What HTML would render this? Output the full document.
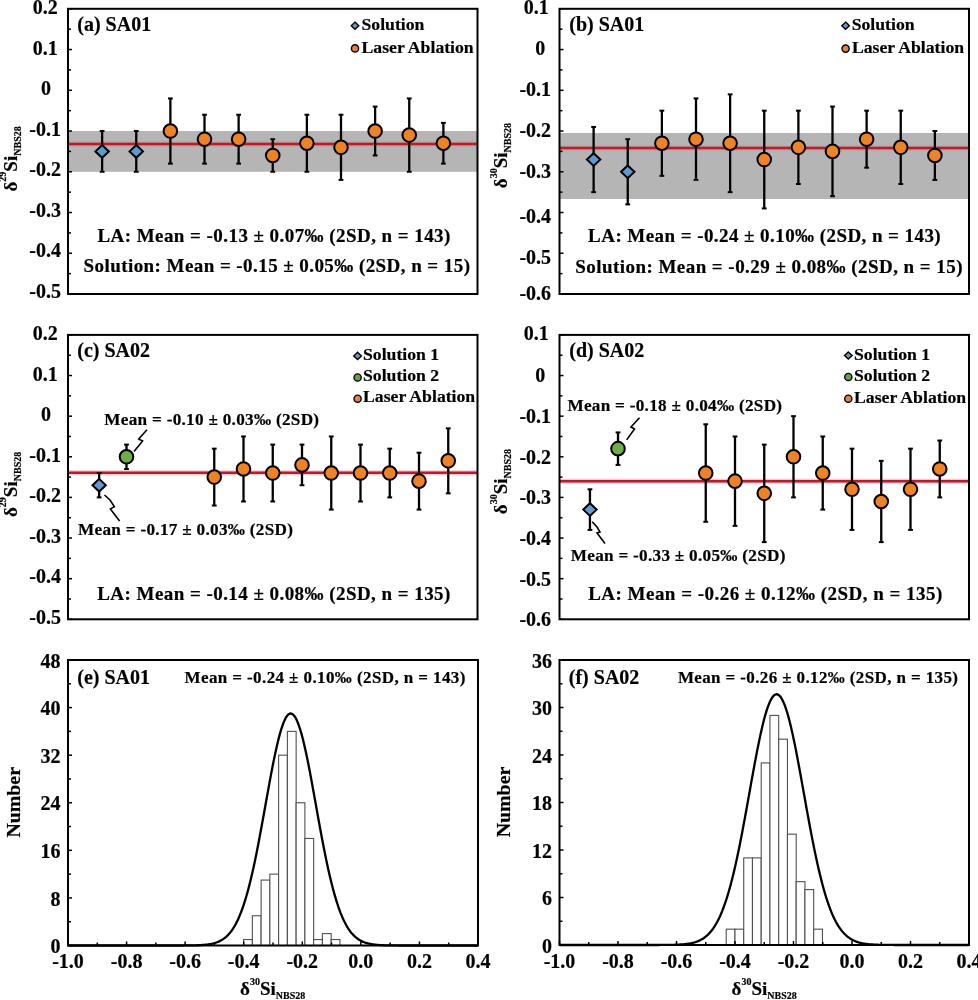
<!DOCTYPE html>
<html><head><meta charset="utf-8"><style>
html,body{margin:0;padding:0;background:#fff;}
svg{display:block;will-change:transform;}
text{font-family:'Liberation Serif',serif;font-weight:bold;fill:#000;stroke:#000;stroke-width:0.2px;}
</style></head><body>
<svg width="978" height="1000" viewBox="0 0 978 1000">
<rect x="68" y="131.03" width="409.5" height="40.74" fill="#B5B5B5"/>
<line x1="68" y1="143.9" x2="477.5" y2="143.9" stroke="#E06070" stroke-opacity="0.35" stroke-width="5"/>
<line x1="68" y1="143.9" x2="477.5" y2="143.9" stroke="#B0202F" stroke-width="2.5"/>
<line x1="102.12" y1="131.03" x2="102.12" y2="171.77" stroke="#000" stroke-width="2.3"/>
<line x1="99.72" y1="131.03" x2="104.53" y2="131.03" stroke="#000" stroke-width="2"/>
<line x1="99.72" y1="171.77" x2="104.53" y2="171.77" stroke="#000" stroke-width="2"/>
<line x1="136.25" y1="131.03" x2="136.25" y2="171.77" stroke="#000" stroke-width="2.3"/>
<line x1="133.85" y1="131.03" x2="138.65" y2="131.03" stroke="#000" stroke-width="2"/>
<line x1="133.85" y1="171.77" x2="138.65" y2="171.77" stroke="#000" stroke-width="2"/>
<line x1="170.38" y1="98.43" x2="170.38" y2="163.62" stroke="#000" stroke-width="2.3"/>
<line x1="167.97" y1="98.43" x2="172.78" y2="98.43" stroke="#000" stroke-width="2"/>
<line x1="167.97" y1="163.62" x2="172.78" y2="163.62" stroke="#000" stroke-width="2"/>
<line x1="204.5" y1="114.73" x2="204.5" y2="163.62" stroke="#000" stroke-width="2.3"/>
<line x1="202.1" y1="114.73" x2="206.9" y2="114.73" stroke="#000" stroke-width="2"/>
<line x1="202.1" y1="163.62" x2="206.9" y2="163.62" stroke="#000" stroke-width="2"/>
<line x1="238.62" y1="114.73" x2="238.62" y2="163.62" stroke="#000" stroke-width="2.3"/>
<line x1="236.22" y1="114.73" x2="241.03" y2="114.73" stroke="#000" stroke-width="2"/>
<line x1="236.22" y1="163.62" x2="241.03" y2="163.62" stroke="#000" stroke-width="2"/>
<line x1="272.75" y1="139.18" x2="272.75" y2="171.77" stroke="#000" stroke-width="2.3"/>
<line x1="270.35" y1="139.18" x2="275.15" y2="139.18" stroke="#000" stroke-width="2"/>
<line x1="270.35" y1="171.77" x2="275.15" y2="171.77" stroke="#000" stroke-width="2"/>
<line x1="306.88" y1="114.73" x2="306.88" y2="171.77" stroke="#000" stroke-width="2.3"/>
<line x1="304.48" y1="114.73" x2="309.27" y2="114.73" stroke="#000" stroke-width="2"/>
<line x1="304.48" y1="171.77" x2="309.27" y2="171.77" stroke="#000" stroke-width="2"/>
<line x1="341" y1="114.73" x2="341" y2="179.92" stroke="#000" stroke-width="2.3"/>
<line x1="338.6" y1="114.73" x2="343.4" y2="114.73" stroke="#000" stroke-width="2"/>
<line x1="338.6" y1="179.92" x2="343.4" y2="179.92" stroke="#000" stroke-width="2"/>
<line x1="375.12" y1="106.58" x2="375.12" y2="155.47" stroke="#000" stroke-width="2.3"/>
<line x1="372.73" y1="106.58" x2="377.52" y2="106.58" stroke="#000" stroke-width="2"/>
<line x1="372.73" y1="155.47" x2="377.52" y2="155.47" stroke="#000" stroke-width="2"/>
<line x1="409.25" y1="98.43" x2="409.25" y2="171.77" stroke="#000" stroke-width="2.3"/>
<line x1="406.85" y1="98.43" x2="411.65" y2="98.43" stroke="#000" stroke-width="2"/>
<line x1="406.85" y1="171.77" x2="411.65" y2="171.77" stroke="#000" stroke-width="2"/>
<line x1="443.38" y1="122.88" x2="443.38" y2="163.62" stroke="#000" stroke-width="2.3"/>
<line x1="440.98" y1="122.88" x2="445.77" y2="122.88" stroke="#000" stroke-width="2"/>
<line x1="440.98" y1="163.62" x2="445.77" y2="163.62" stroke="#000" stroke-width="2"/>
<path d="M102.12 145.03L108.83 151.4L102.12 157.77L95.42 151.4Z" fill="#5B9BD5" stroke="#000" stroke-width="2"/>
<path d="M136.25 145.03L142.95 151.4L136.25 157.77L129.55 151.4Z" fill="#5B9BD5" stroke="#000" stroke-width="2"/>
<circle cx="170.38" cy="131.03" r="6.8" fill="#EE8226" stroke="#000" stroke-width="2"/>
<circle cx="204.5" cy="139.18" r="6.8" fill="#EE8226" stroke="#000" stroke-width="2"/>
<circle cx="238.62" cy="139.18" r="6.8" fill="#EE8226" stroke="#000" stroke-width="2"/>
<circle cx="272.75" cy="155.47" r="6.8" fill="#EE8226" stroke="#000" stroke-width="2"/>
<circle cx="306.88" cy="143.25" r="6.8" fill="#EE8226" stroke="#000" stroke-width="2"/>
<circle cx="341" cy="147.33" r="6.8" fill="#EE8226" stroke="#000" stroke-width="2"/>
<circle cx="375.12" cy="131.03" r="6.8" fill="#EE8226" stroke="#000" stroke-width="2"/>
<circle cx="409.25" cy="135.1" r="6.8" fill="#EE8226" stroke="#000" stroke-width="2"/>
<circle cx="443.38" cy="143.25" r="6.8" fill="#EE8226" stroke="#000" stroke-width="2"/>
<rect x="68" y="8.8" width="409.5" height="285.2" fill="none" stroke="#000" stroke-width="2"/>
<line x1="68" y1="8.8" x2="72" y2="8.8" stroke="#000" stroke-width="1.5"/>
<line x1="68" y1="29.17" x2="71" y2="29.17" stroke="#000" stroke-width="1.5"/>
<line x1="68" y1="49.54" x2="72" y2="49.54" stroke="#000" stroke-width="1.5"/>
<line x1="68" y1="69.91" x2="71" y2="69.91" stroke="#000" stroke-width="1.5"/>
<line x1="68" y1="90.29" x2="72" y2="90.29" stroke="#000" stroke-width="1.5"/>
<line x1="68" y1="110.66" x2="71" y2="110.66" stroke="#000" stroke-width="1.5"/>
<line x1="68" y1="131.03" x2="72" y2="131.03" stroke="#000" stroke-width="1.5"/>
<line x1="68" y1="151.4" x2="71" y2="151.4" stroke="#000" stroke-width="1.5"/>
<line x1="68" y1="171.77" x2="72" y2="171.77" stroke="#000" stroke-width="1.5"/>
<line x1="68" y1="192.14" x2="71" y2="192.14" stroke="#000" stroke-width="1.5"/>
<line x1="68" y1="212.51" x2="72" y2="212.51" stroke="#000" stroke-width="1.5"/>
<line x1="68" y1="232.89" x2="71" y2="232.89" stroke="#000" stroke-width="1.5"/>
<line x1="68" y1="253.26" x2="72" y2="253.26" stroke="#000" stroke-width="1.5"/>
<line x1="68" y1="273.63" x2="71" y2="273.63" stroke="#000" stroke-width="1.5"/>
<line x1="68" y1="294" x2="72" y2="294" stroke="#000" stroke-width="1.5"/>
<text x="45.2" y="14" text-anchor="middle" style="font-size:20px">0.2</text>
<text x="45.2" y="54.51" text-anchor="middle" style="font-size:20px">0.1</text>
<text x="46.1" y="95.02" text-anchor="middle" style="font-size:20px">0</text>
<text x="45.2" y="135.53" text-anchor="middle" style="font-size:20px">-0.1</text>
<text x="45.2" y="176.04" text-anchor="middle" style="font-size:20px">-0.2</text>
<text x="45.2" y="216.55" text-anchor="middle" style="font-size:20px">-0.3</text>
<text x="45.2" y="257.06" text-anchor="middle" style="font-size:20px">-0.4</text>
<text x="45.2" y="297.57" text-anchor="middle" style="font-size:20px">-0.5</text>
<text x="77.3" y="31.2" text-anchor="start" style="font-size:20px" >(a) SA01</text>
<path d="M355 22.1L358.8 25.7L355 29.3L351.2 25.7Z" fill="#6F95BF" stroke="#000" stroke-width="1.4"/>
<text x="361.5" y="30" text-anchor="start" style="font-size:17.7px" >Solution</text>
<circle cx="355" cy="48.4" r="3.6" fill="#DC8448" stroke="#000" stroke-width="1.4"/>
<text x="361.5" y="52.8" text-anchor="start" style="font-size:17.7px" >Laser Ablation</text>
<text x="97.40" y="242.00" textLength="352.98" lengthAdjust="spacing" style="font-size:19px">LA: Mean = -0.13 &#177; 0.07&#8240; (2SD, n = 143)</text>
<text x="83.50" y="272.40" textLength="386.47" lengthAdjust="spacing" style="font-size:19px">Solution: Mean = -0.15 &#177; 0.05&#8240; (2SD, n = 15)</text>
<text transform="translate(16.6,191.5) rotate(-90)" style="font-size:19px">&#948;<tspan dy="-10.5" style="font-size:10px">29</tspan><tspan dy="10.5">Si</tspan><tspan dy="4" style="font-size:10px">NBS28</tspan></text>
<rect x="559.5" y="133" width="409.5" height="66" fill="#B5B5B5"/>
<line x1="559.5" y1="147.94" x2="969" y2="147.94" stroke="#E06070" stroke-opacity="0.35" stroke-width="5"/>
<line x1="559.5" y1="147.94" x2="969" y2="147.94" stroke="#B0202F" stroke-width="2.5"/>
<line x1="593.62" y1="126.95" x2="593.62" y2="192.14" stroke="#000" stroke-width="2.3"/>
<line x1="591.23" y1="126.95" x2="596.02" y2="126.95" stroke="#000" stroke-width="2"/>
<line x1="591.23" y1="192.14" x2="596.02" y2="192.14" stroke="#000" stroke-width="2"/>
<line x1="627.75" y1="139.18" x2="627.75" y2="204.37" stroke="#000" stroke-width="2.3"/>
<line x1="625.35" y1="139.18" x2="630.15" y2="139.18" stroke="#000" stroke-width="2"/>
<line x1="625.35" y1="204.37" x2="630.15" y2="204.37" stroke="#000" stroke-width="2"/>
<line x1="661.88" y1="110.66" x2="661.88" y2="175.85" stroke="#000" stroke-width="2.3"/>
<line x1="659.48" y1="110.66" x2="664.27" y2="110.66" stroke="#000" stroke-width="2"/>
<line x1="659.48" y1="175.85" x2="664.27" y2="175.85" stroke="#000" stroke-width="2"/>
<line x1="696" y1="98.43" x2="696" y2="179.92" stroke="#000" stroke-width="2.3"/>
<line x1="693.6" y1="98.43" x2="698.4" y2="98.43" stroke="#000" stroke-width="2"/>
<line x1="693.6" y1="179.92" x2="698.4" y2="179.92" stroke="#000" stroke-width="2"/>
<line x1="730.12" y1="94.36" x2="730.12" y2="192.14" stroke="#000" stroke-width="2.3"/>
<line x1="727.73" y1="94.36" x2="732.52" y2="94.36" stroke="#000" stroke-width="2"/>
<line x1="727.73" y1="192.14" x2="732.52" y2="192.14" stroke="#000" stroke-width="2"/>
<line x1="764.25" y1="110.66" x2="764.25" y2="208.44" stroke="#000" stroke-width="2.3"/>
<line x1="761.85" y1="110.66" x2="766.65" y2="110.66" stroke="#000" stroke-width="2"/>
<line x1="761.85" y1="208.44" x2="766.65" y2="208.44" stroke="#000" stroke-width="2"/>
<line x1="798.38" y1="110.66" x2="798.38" y2="183.99" stroke="#000" stroke-width="2.3"/>
<line x1="795.98" y1="110.66" x2="800.77" y2="110.66" stroke="#000" stroke-width="2"/>
<line x1="795.98" y1="183.99" x2="800.77" y2="183.99" stroke="#000" stroke-width="2"/>
<line x1="832.5" y1="106.58" x2="832.5" y2="196.22" stroke="#000" stroke-width="2.3"/>
<line x1="830.1" y1="106.58" x2="834.9" y2="106.58" stroke="#000" stroke-width="2"/>
<line x1="830.1" y1="196.22" x2="834.9" y2="196.22" stroke="#000" stroke-width="2"/>
<line x1="866.62" y1="110.66" x2="866.62" y2="167.7" stroke="#000" stroke-width="2.3"/>
<line x1="864.23" y1="110.66" x2="869.02" y2="110.66" stroke="#000" stroke-width="2"/>
<line x1="864.23" y1="167.7" x2="869.02" y2="167.7" stroke="#000" stroke-width="2"/>
<line x1="900.75" y1="110.66" x2="900.75" y2="183.99" stroke="#000" stroke-width="2.3"/>
<line x1="898.35" y1="110.66" x2="903.15" y2="110.66" stroke="#000" stroke-width="2"/>
<line x1="898.35" y1="183.99" x2="903.15" y2="183.99" stroke="#000" stroke-width="2"/>
<line x1="934.88" y1="131.03" x2="934.88" y2="179.92" stroke="#000" stroke-width="2.3"/>
<line x1="932.48" y1="131.03" x2="937.27" y2="131.03" stroke="#000" stroke-width="2"/>
<line x1="932.48" y1="179.92" x2="937.27" y2="179.92" stroke="#000" stroke-width="2"/>
<path d="M593.62 153.18L600.33 159.55L593.62 165.91L586.92 159.55Z" fill="#5B9BD5" stroke="#000" stroke-width="2"/>
<path d="M627.75 165.41L634.45 171.77L627.75 178.14L621.05 171.77Z" fill="#5B9BD5" stroke="#000" stroke-width="2"/>
<circle cx="661.88" cy="143.25" r="6.8" fill="#EE8226" stroke="#000" stroke-width="2"/>
<circle cx="696" cy="139.18" r="6.8" fill="#EE8226" stroke="#000" stroke-width="2"/>
<circle cx="730.12" cy="143.25" r="6.8" fill="#EE8226" stroke="#000" stroke-width="2"/>
<circle cx="764.25" cy="159.55" r="6.8" fill="#EE8226" stroke="#000" stroke-width="2"/>
<circle cx="798.38" cy="147.33" r="6.8" fill="#EE8226" stroke="#000" stroke-width="2"/>
<circle cx="832.5" cy="151.4" r="6.8" fill="#EE8226" stroke="#000" stroke-width="2"/>
<circle cx="866.62" cy="139.18" r="6.8" fill="#EE8226" stroke="#000" stroke-width="2"/>
<circle cx="900.75" cy="147.33" r="6.8" fill="#EE8226" stroke="#000" stroke-width="2"/>
<circle cx="934.88" cy="155.47" r="6.8" fill="#EE8226" stroke="#000" stroke-width="2"/>
<rect x="559.5" y="8.8" width="409.5" height="285.2" fill="none" stroke="#000" stroke-width="2"/>
<line x1="559.5" y1="8.8" x2="563.5" y2="8.8" stroke="#000" stroke-width="1.5"/>
<line x1="559.5" y1="29.17" x2="562.5" y2="29.17" stroke="#000" stroke-width="1.5"/>
<line x1="559.5" y1="49.54" x2="563.5" y2="49.54" stroke="#000" stroke-width="1.5"/>
<line x1="559.5" y1="69.91" x2="562.5" y2="69.91" stroke="#000" stroke-width="1.5"/>
<line x1="559.5" y1="90.29" x2="563.5" y2="90.29" stroke="#000" stroke-width="1.5"/>
<line x1="559.5" y1="110.66" x2="562.5" y2="110.66" stroke="#000" stroke-width="1.5"/>
<line x1="559.5" y1="131.03" x2="563.5" y2="131.03" stroke="#000" stroke-width="1.5"/>
<line x1="559.5" y1="151.4" x2="562.5" y2="151.4" stroke="#000" stroke-width="1.5"/>
<line x1="559.5" y1="171.77" x2="563.5" y2="171.77" stroke="#000" stroke-width="1.5"/>
<line x1="559.5" y1="192.14" x2="562.5" y2="192.14" stroke="#000" stroke-width="1.5"/>
<line x1="559.5" y1="212.51" x2="563.5" y2="212.51" stroke="#000" stroke-width="1.5"/>
<line x1="559.5" y1="232.89" x2="562.5" y2="232.89" stroke="#000" stroke-width="1.5"/>
<line x1="559.5" y1="253.26" x2="563.5" y2="253.26" stroke="#000" stroke-width="1.5"/>
<line x1="559.5" y1="273.63" x2="562.5" y2="273.63" stroke="#000" stroke-width="1.5"/>
<line x1="559.5" y1="294" x2="563.5" y2="294" stroke="#000" stroke-width="1.5"/>
<text x="536.3" y="14.15" text-anchor="middle" style="font-size:20px">0.1</text>
<text x="540.3" y="54.65" text-anchor="middle" style="font-size:20px">0</text>
<text x="535.3" y="95.65" text-anchor="middle" style="font-size:20px">-0.1</text>
<text x="535.3" y="136.55" text-anchor="middle" style="font-size:20px">-0.2</text>
<text x="535.3" y="177.65" text-anchor="middle" style="font-size:20px">-0.3</text>
<text x="535.3" y="222.6" text-anchor="middle" style="font-size:20px">-0.4</text>
<text x="535.3" y="263.8" text-anchor="middle" style="font-size:20px">-0.5</text>
<text x="535.3" y="299.6" text-anchor="middle" style="font-size:20px">-0.6</text>
<text x="569.3" y="31.2" text-anchor="start" style="font-size:20px" >(b) SA01</text>
<path d="M845.6 22.1L849.4 25.7L845.6 29.3L841.8 25.7Z" fill="#6F95BF" stroke="#000" stroke-width="1.4"/>
<text x="851.7" y="30" text-anchor="start" style="font-size:17.7px" >Solution</text>
<circle cx="845.6" cy="48.6" r="3.6" fill="#DC8448" stroke="#000" stroke-width="1.4"/>
<text x="851.9" y="52.8" text-anchor="start" style="font-size:17.7px" >Laser Ablation</text>
<text x="588.10" y="242.40" textLength="352.58" lengthAdjust="spacing" style="font-size:19px">LA: Mean = -0.24 &#177; 0.10&#8240; (2SD, n = 143)</text>
<text x="575.20" y="272.80" textLength="387.27" lengthAdjust="spacing" style="font-size:19px">Solution: Mean = -0.29 &#177; 0.08&#8240; (2SD, n = 15)</text>
<text transform="translate(507.3,188.2) rotate(-90)" style="font-size:19px">&#948;<tspan dy="-10.5" style="font-size:10px">30</tspan><tspan dy="10.5">Si</tspan><tspan dy="4" style="font-size:10px">NBS28</tspan></text>
<line x1="68" y1="472.63" x2="477.5" y2="472.63" stroke="#E06070" stroke-opacity="0.35" stroke-width="5"/>
<line x1="68" y1="472.63" x2="477.5" y2="472.63" stroke="#B0202F" stroke-width="2.5"/>
<line x1="99.15" y1="473.04" x2="99.15" y2="497.41" stroke="#000" stroke-width="2.3"/>
<line x1="96.75" y1="473.04" x2="101.55" y2="473.04" stroke="#000" stroke-width="2"/>
<line x1="96.75" y1="497.41" x2="101.55" y2="497.41" stroke="#000" stroke-width="2"/>
<line x1="126.5" y1="444.6" x2="126.5" y2="468.97" stroke="#000" stroke-width="2.3"/>
<line x1="124.1" y1="444.6" x2="128.9" y2="444.6" stroke="#000" stroke-width="2"/>
<line x1="124.1" y1="468.97" x2="128.9" y2="468.97" stroke="#000" stroke-width="2"/>
<line x1="214.25" y1="448.66" x2="214.25" y2="505.54" stroke="#000" stroke-width="2.3"/>
<line x1="211.85" y1="448.66" x2="216.65" y2="448.66" stroke="#000" stroke-width="2"/>
<line x1="211.85" y1="505.54" x2="216.65" y2="505.54" stroke="#000" stroke-width="2"/>
<line x1="243.5" y1="436.47" x2="243.5" y2="501.48" stroke="#000" stroke-width="2.3"/>
<line x1="241.1" y1="436.47" x2="245.9" y2="436.47" stroke="#000" stroke-width="2"/>
<line x1="241.1" y1="501.48" x2="245.9" y2="501.48" stroke="#000" stroke-width="2"/>
<line x1="272.75" y1="444.6" x2="272.75" y2="501.48" stroke="#000" stroke-width="2.3"/>
<line x1="270.35" y1="444.6" x2="275.15" y2="444.6" stroke="#000" stroke-width="2"/>
<line x1="270.35" y1="501.48" x2="275.15" y2="501.48" stroke="#000" stroke-width="2"/>
<line x1="302" y1="444.6" x2="302" y2="485.23" stroke="#000" stroke-width="2.3"/>
<line x1="299.6" y1="444.6" x2="304.4" y2="444.6" stroke="#000" stroke-width="2"/>
<line x1="299.6" y1="485.23" x2="304.4" y2="485.23" stroke="#000" stroke-width="2"/>
<line x1="331.25" y1="436.47" x2="331.25" y2="509.6" stroke="#000" stroke-width="2.3"/>
<line x1="328.85" y1="436.47" x2="333.65" y2="436.47" stroke="#000" stroke-width="2"/>
<line x1="328.85" y1="509.6" x2="333.65" y2="509.6" stroke="#000" stroke-width="2"/>
<line x1="360.5" y1="444.6" x2="360.5" y2="501.48" stroke="#000" stroke-width="2.3"/>
<line x1="358.1" y1="444.6" x2="362.9" y2="444.6" stroke="#000" stroke-width="2"/>
<line x1="358.1" y1="501.48" x2="362.9" y2="501.48" stroke="#000" stroke-width="2"/>
<line x1="389.75" y1="448.66" x2="389.75" y2="497.41" stroke="#000" stroke-width="2.3"/>
<line x1="387.35" y1="448.66" x2="392.15" y2="448.66" stroke="#000" stroke-width="2"/>
<line x1="387.35" y1="497.41" x2="392.15" y2="497.41" stroke="#000" stroke-width="2"/>
<line x1="419" y1="452.72" x2="419" y2="509.6" stroke="#000" stroke-width="2.3"/>
<line x1="416.6" y1="452.72" x2="421.4" y2="452.72" stroke="#000" stroke-width="2"/>
<line x1="416.6" y1="509.6" x2="421.4" y2="509.6" stroke="#000" stroke-width="2"/>
<line x1="448.25" y1="428.35" x2="448.25" y2="493.35" stroke="#000" stroke-width="2.3"/>
<line x1="445.85" y1="428.35" x2="450.65" y2="428.35" stroke="#000" stroke-width="2"/>
<line x1="445.85" y1="493.35" x2="450.65" y2="493.35" stroke="#000" stroke-width="2"/>
<path d="M99.15 478.86L105.85 485.23L99.15 491.59L92.45 485.23Z" fill="#5B9BD5" stroke="#000" stroke-width="2"/>
<circle cx="126.5" cy="456.79" r="6.8" fill="#6FAD46" stroke="#000" stroke-width="2"/>
<circle cx="214.25" cy="477.1" r="6.8" fill="#EE8226" stroke="#000" stroke-width="2"/>
<circle cx="243.5" cy="468.97" r="6.8" fill="#EE8226" stroke="#000" stroke-width="2"/>
<circle cx="272.75" cy="473.04" r="6.8" fill="#EE8226" stroke="#000" stroke-width="2"/>
<circle cx="302" cy="464.91" r="6.8" fill="#EE8226" stroke="#000" stroke-width="2"/>
<circle cx="331.25" cy="473.04" r="6.8" fill="#EE8226" stroke="#000" stroke-width="2"/>
<circle cx="360.5" cy="473.04" r="6.8" fill="#EE8226" stroke="#000" stroke-width="2"/>
<circle cx="389.75" cy="473.04" r="6.8" fill="#EE8226" stroke="#000" stroke-width="2"/>
<circle cx="419" cy="481.16" r="6.8" fill="#EE8226" stroke="#000" stroke-width="2"/>
<circle cx="448.25" cy="460.85" r="6.8" fill="#EE8226" stroke="#000" stroke-width="2"/>
<rect x="68" y="334.9" width="409.5" height="284.4" fill="none" stroke="#000" stroke-width="2"/>
<line x1="68" y1="334.9" x2="72" y2="334.9" stroke="#000" stroke-width="1.5"/>
<line x1="68" y1="355.21" x2="71" y2="355.21" stroke="#000" stroke-width="1.5"/>
<line x1="68" y1="375.53" x2="72" y2="375.53" stroke="#000" stroke-width="1.5"/>
<line x1="68" y1="395.84" x2="71" y2="395.84" stroke="#000" stroke-width="1.5"/>
<line x1="68" y1="416.16" x2="72" y2="416.16" stroke="#000" stroke-width="1.5"/>
<line x1="68" y1="436.47" x2="71" y2="436.47" stroke="#000" stroke-width="1.5"/>
<line x1="68" y1="456.79" x2="72" y2="456.79" stroke="#000" stroke-width="1.5"/>
<line x1="68" y1="477.1" x2="71" y2="477.1" stroke="#000" stroke-width="1.5"/>
<line x1="68" y1="497.41" x2="72" y2="497.41" stroke="#000" stroke-width="1.5"/>
<line x1="68" y1="517.73" x2="71" y2="517.73" stroke="#000" stroke-width="1.5"/>
<line x1="68" y1="538.04" x2="72" y2="538.04" stroke="#000" stroke-width="1.5"/>
<line x1="68" y1="558.36" x2="71" y2="558.36" stroke="#000" stroke-width="1.5"/>
<line x1="68" y1="578.67" x2="72" y2="578.67" stroke="#000" stroke-width="1.5"/>
<line x1="68" y1="598.99" x2="71" y2="598.99" stroke="#000" stroke-width="1.5"/>
<line x1="68" y1="619.3" x2="72" y2="619.3" stroke="#000" stroke-width="1.5"/>
<text x="45.2" y="340.1" text-anchor="middle" style="font-size:20px">0.2</text>
<text x="45.2" y="380.61" text-anchor="middle" style="font-size:20px">0.1</text>
<text x="46.1" y="421.12" text-anchor="middle" style="font-size:20px">0</text>
<text x="45.2" y="461.63" text-anchor="middle" style="font-size:20px">-0.1</text>
<text x="45.2" y="502.14" text-anchor="middle" style="font-size:20px">-0.2</text>
<text x="45.2" y="542.65" text-anchor="middle" style="font-size:20px">-0.3</text>
<text x="45.2" y="583.16" text-anchor="middle" style="font-size:20px">-0.4</text>
<text x="45.2" y="623.67" text-anchor="middle" style="font-size:20px">-0.5</text>
<text x="77.3" y="357.1" text-anchor="start" style="font-size:20px" >(c) SA02</text>
<path d="M357.6 352.3L361.4 355.9L357.6 359.5L353.8 355.9Z" fill="#6F95BF" stroke="#000" stroke-width="1.4"/>
<text x="363" y="359.5" text-anchor="start" style="font-size:17.7px" >Solution 1</text>
<circle cx="357.6" cy="377.5" r="3.6" fill="#66A04E" stroke="#000" stroke-width="1.4"/>
<text x="363" y="380.8" text-anchor="start" style="font-size:17.7px" >Solution 2</text>
<circle cx="357.6" cy="398.7" r="3.6" fill="#DC8448" stroke="#000" stroke-width="1.4"/>
<text x="363" y="402" text-anchor="start" style="font-size:17.7px" >Laser Ablation</text>
<text x="104.30" y="424.80" textLength="214.80" lengthAdjust="spacing" style="font-size:17.2px">Mean = -0.10 &#177; 0.03&#8240; (2SD)</text>
<text x="78.00" y="534.80" textLength="215.00" lengthAdjust="spacing" style="font-size:17.2px">Mean = -0.17 &#177; 0.03&#8240; (2SD)</text>
<text x="97.20" y="600.00" textLength="353.18" lengthAdjust="spacing" style="font-size:19px">LA: Mean = -0.14 &#177; 0.08&#8240; (2SD, n = 135)</text>
<path d="M134 451.5 L142.6 441 L138.7 439 L147 429.7" fill="none" stroke="#000" stroke-width="1.6" stroke-linejoin="miter"/>
<path d="M104.5 495 L110 500 L114.4 506.7 L110.4 508.9 L119.6 521.1" fill="none" stroke="#000" stroke-width="1.6" stroke-linejoin="miter"/>
<text transform="translate(16.6,517) rotate(-90)" style="font-size:19px">&#948;<tspan dy="-10.5" style="font-size:10px">29</tspan><tspan dy="10.5">Si</tspan><tspan dy="4" style="font-size:10px">NBS28</tspan></text>
<line x1="559.5" y1="481.16" x2="969" y2="481.16" stroke="#E06070" stroke-opacity="0.35" stroke-width="5"/>
<line x1="559.5" y1="481.16" x2="969" y2="481.16" stroke="#B0202F" stroke-width="2.5"/>
<line x1="589.95" y1="489.29" x2="589.95" y2="529.92" stroke="#000" stroke-width="2.3"/>
<line x1="587.55" y1="489.29" x2="592.35" y2="489.29" stroke="#000" stroke-width="2"/>
<line x1="587.55" y1="529.92" x2="592.35" y2="529.92" stroke="#000" stroke-width="2"/>
<line x1="618" y1="432.41" x2="618" y2="464.91" stroke="#000" stroke-width="2.3"/>
<line x1="615.6" y1="432.41" x2="620.4" y2="432.41" stroke="#000" stroke-width="2"/>
<line x1="615.6" y1="464.91" x2="620.4" y2="464.91" stroke="#000" stroke-width="2"/>
<line x1="705.75" y1="424.28" x2="705.75" y2="521.79" stroke="#000" stroke-width="2.3"/>
<line x1="703.35" y1="424.28" x2="708.15" y2="424.28" stroke="#000" stroke-width="2"/>
<line x1="703.35" y1="521.79" x2="708.15" y2="521.79" stroke="#000" stroke-width="2"/>
<line x1="735" y1="436.47" x2="735" y2="525.85" stroke="#000" stroke-width="2.3"/>
<line x1="732.6" y1="436.47" x2="737.4" y2="436.47" stroke="#000" stroke-width="2"/>
<line x1="732.6" y1="525.85" x2="737.4" y2="525.85" stroke="#000" stroke-width="2"/>
<line x1="764.25" y1="444.6" x2="764.25" y2="542.11" stroke="#000" stroke-width="2.3"/>
<line x1="761.85" y1="444.6" x2="766.65" y2="444.6" stroke="#000" stroke-width="2"/>
<line x1="761.85" y1="542.11" x2="766.65" y2="542.11" stroke="#000" stroke-width="2"/>
<line x1="793.5" y1="416.16" x2="793.5" y2="497.41" stroke="#000" stroke-width="2.3"/>
<line x1="791.1" y1="416.16" x2="795.9" y2="416.16" stroke="#000" stroke-width="2"/>
<line x1="791.1" y1="497.41" x2="795.9" y2="497.41" stroke="#000" stroke-width="2"/>
<line x1="822.75" y1="436.47" x2="822.75" y2="509.6" stroke="#000" stroke-width="2.3"/>
<line x1="820.35" y1="436.47" x2="825.15" y2="436.47" stroke="#000" stroke-width="2"/>
<line x1="820.35" y1="509.6" x2="825.15" y2="509.6" stroke="#000" stroke-width="2"/>
<line x1="852" y1="448.66" x2="852" y2="529.92" stroke="#000" stroke-width="2.3"/>
<line x1="849.6" y1="448.66" x2="854.4" y2="448.66" stroke="#000" stroke-width="2"/>
<line x1="849.6" y1="529.92" x2="854.4" y2="529.92" stroke="#000" stroke-width="2"/>
<line x1="881.25" y1="460.85" x2="881.25" y2="542.11" stroke="#000" stroke-width="2.3"/>
<line x1="878.85" y1="460.85" x2="883.65" y2="460.85" stroke="#000" stroke-width="2"/>
<line x1="878.85" y1="542.11" x2="883.65" y2="542.11" stroke="#000" stroke-width="2"/>
<line x1="910.5" y1="448.66" x2="910.5" y2="529.92" stroke="#000" stroke-width="2.3"/>
<line x1="908.1" y1="448.66" x2="912.9" y2="448.66" stroke="#000" stroke-width="2"/>
<line x1="908.1" y1="529.92" x2="912.9" y2="529.92" stroke="#000" stroke-width="2"/>
<line x1="939.75" y1="440.53" x2="939.75" y2="497.41" stroke="#000" stroke-width="2.3"/>
<line x1="937.35" y1="440.53" x2="942.15" y2="440.53" stroke="#000" stroke-width="2"/>
<line x1="937.35" y1="497.41" x2="942.15" y2="497.41" stroke="#000" stroke-width="2"/>
<path d="M589.95 503.24L596.65 509.6L589.95 515.97L583.25 509.6Z" fill="#5B9BD5" stroke="#000" stroke-width="2"/>
<circle cx="618" cy="448.66" r="6.8" fill="#6FAD46" stroke="#000" stroke-width="2"/>
<circle cx="705.75" cy="473.04" r="6.8" fill="#EE8226" stroke="#000" stroke-width="2"/>
<circle cx="735" cy="481.16" r="6.8" fill="#EE8226" stroke="#000" stroke-width="2"/>
<circle cx="764.25" cy="493.35" r="6.8" fill="#EE8226" stroke="#000" stroke-width="2"/>
<circle cx="793.5" cy="456.79" r="6.8" fill="#EE8226" stroke="#000" stroke-width="2"/>
<circle cx="822.75" cy="473.04" r="6.8" fill="#EE8226" stroke="#000" stroke-width="2"/>
<circle cx="852" cy="489.29" r="6.8" fill="#EE8226" stroke="#000" stroke-width="2"/>
<circle cx="881.25" cy="501.48" r="6.8" fill="#EE8226" stroke="#000" stroke-width="2"/>
<circle cx="910.5" cy="489.29" r="6.8" fill="#EE8226" stroke="#000" stroke-width="2"/>
<circle cx="939.75" cy="468.97" r="6.8" fill="#EE8226" stroke="#000" stroke-width="2"/>
<rect x="559.5" y="334.9" width="409.5" height="284.4" fill="none" stroke="#000" stroke-width="2"/>
<line x1="559.5" y1="334.9" x2="563.5" y2="334.9" stroke="#000" stroke-width="1.5"/>
<line x1="559.5" y1="355.21" x2="562.5" y2="355.21" stroke="#000" stroke-width="1.5"/>
<line x1="559.5" y1="375.53" x2="563.5" y2="375.53" stroke="#000" stroke-width="1.5"/>
<line x1="559.5" y1="395.84" x2="562.5" y2="395.84" stroke="#000" stroke-width="1.5"/>
<line x1="559.5" y1="416.16" x2="563.5" y2="416.16" stroke="#000" stroke-width="1.5"/>
<line x1="559.5" y1="436.47" x2="562.5" y2="436.47" stroke="#000" stroke-width="1.5"/>
<line x1="559.5" y1="456.79" x2="563.5" y2="456.79" stroke="#000" stroke-width="1.5"/>
<line x1="559.5" y1="477.1" x2="562.5" y2="477.1" stroke="#000" stroke-width="1.5"/>
<line x1="559.5" y1="497.41" x2="563.5" y2="497.41" stroke="#000" stroke-width="1.5"/>
<line x1="559.5" y1="517.73" x2="562.5" y2="517.73" stroke="#000" stroke-width="1.5"/>
<line x1="559.5" y1="538.04" x2="563.5" y2="538.04" stroke="#000" stroke-width="1.5"/>
<line x1="559.5" y1="558.36" x2="562.5" y2="558.36" stroke="#000" stroke-width="1.5"/>
<line x1="559.5" y1="578.67" x2="563.5" y2="578.67" stroke="#000" stroke-width="1.5"/>
<line x1="559.5" y1="598.99" x2="562.5" y2="598.99" stroke="#000" stroke-width="1.5"/>
<line x1="559.5" y1="619.3" x2="563.5" y2="619.3" stroke="#000" stroke-width="1.5"/>
<text x="536.3" y="340.15" text-anchor="middle" style="font-size:20px">0.1</text>
<text x="540.3" y="381.8" text-anchor="middle" style="font-size:20px">0</text>
<text x="535.3" y="423.25" text-anchor="middle" style="font-size:20px">-0.1</text>
<text x="535.3" y="463.75" text-anchor="middle" style="font-size:20px">-0.2</text>
<text x="535.3" y="504.3" text-anchor="middle" style="font-size:20px">-0.3</text>
<text x="535.3" y="545" text-anchor="middle" style="font-size:20px">-0.4</text>
<text x="535.3" y="585.5" text-anchor="middle" style="font-size:20px">-0.5</text>
<text x="535.3" y="626.4" text-anchor="middle" style="font-size:20px">-0.6</text>
<text x="569.3" y="357.1" text-anchor="start" style="font-size:20px" >(d) SA02</text>
<path d="M848.3 351.9L852.1 355.5L848.3 359.1L844.5 355.5Z" fill="#6F95BF" stroke="#000" stroke-width="1.4"/>
<text x="854" y="359.5" text-anchor="start" style="font-size:17.7px" >Solution 1</text>
<circle cx="848.3" cy="377" r="3.6" fill="#66A04E" stroke="#000" stroke-width="1.4"/>
<text x="854" y="381" text-anchor="start" style="font-size:17.7px" >Solution 2</text>
<circle cx="848.3" cy="398.7" r="3.6" fill="#DC8448" stroke="#000" stroke-width="1.4"/>
<text x="854" y="402.5" text-anchor="start" style="font-size:17.7px" >Laser Ablation</text>
<text x="567.40" y="411.40" textLength="214.70" lengthAdjust="spacing" style="font-size:17.2px">Mean = -0.18 &#177; 0.04&#8240; (2SD)</text>
<text x="570.70" y="561.40" textLength="214.80" lengthAdjust="spacing" style="font-size:17.2px">Mean = -0.33 &#177; 0.05&#8240; (2SD)</text>
<text x="588.20" y="600.00" textLength="354.08" lengthAdjust="spacing" style="font-size:19px">LA: Mean = -0.26 &#177; 0.12&#8240; (2SD, n = 135)</text>
<path d="M626.7 439.9 L634.5 429 L631 427 L639.5 417.7" fill="none" stroke="#000" stroke-width="1.6" stroke-linejoin="miter"/>
<path d="M592.2 521.7 L597 527 L600 532 L597 533 L605 543.4" fill="none" stroke="#000" stroke-width="1.6" stroke-linejoin="miter"/>
<text transform="translate(507.3,514.2) rotate(-90)" style="font-size:19px">&#948;<tspan dy="-10.5" style="font-size:10px">30</tspan><tspan dy="10.5">Si</tspan><tspan dy="4" style="font-size:10px">NBS28</tspan></text>
<rect x="243.6" y="939.55" width="8.76" height="5.95" fill="#fff" stroke="#505050" stroke-width="1.1"/>
<rect x="252.35" y="915.76" width="8.76" height="29.74" fill="#fff" stroke="#505050" stroke-width="1.1"/>
<rect x="261.11" y="880.07" width="8.76" height="65.43" fill="#fff" stroke="#505050" stroke-width="1.1"/>
<rect x="269.87" y="874.12" width="8.76" height="71.38" fill="#fff" stroke="#505050" stroke-width="1.1"/>
<rect x="278.62" y="755.17" width="8.76" height="190.33" fill="#fff" stroke="#505050" stroke-width="1.1"/>
<rect x="287.38" y="731.38" width="8.76" height="214.12" fill="#fff" stroke="#505050" stroke-width="1.1"/>
<rect x="296.14" y="802.75" width="8.76" height="142.75" fill="#fff" stroke="#505050" stroke-width="1.1"/>
<rect x="304.89" y="838.44" width="8.76" height="107.06" fill="#fff" stroke="#505050" stroke-width="1.1"/>
<rect x="313.65" y="939.55" width="8.76" height="5.95" fill="#fff" stroke="#505050" stroke-width="1.1"/>
<rect x="322.41" y="933.6" width="8.76" height="11.9" fill="#fff" stroke="#505050" stroke-width="1.1"/>
<rect x="331.16" y="939.55" width="8.76" height="5.95" fill="#fff" stroke="#505050" stroke-width="1.1"/>
<path d="M68.00 945.50 L69.02 945.50 L70.05 945.50 L71.07 945.50 L72.10 945.50 L73.12 945.50 L74.15 945.50 L75.17 945.50 L76.20 945.50 L77.22 945.50 L78.25 945.50 L79.27 945.50 L80.30 945.50 L81.33 945.50 L82.35 945.50 L83.38 945.50 L84.40 945.50 L85.42 945.50 L86.45 945.50 L87.47 945.50 L88.50 945.50 L89.53 945.50 L90.55 945.50 L91.58 945.50 L92.60 945.50 L93.62 945.50 L94.65 945.50 L95.68 945.50 L96.70 945.50 L97.72 945.50 L98.75 945.50 L99.78 945.50 L100.80 945.50 L101.82 945.50 L102.85 945.50 L103.88 945.50 L104.90 945.50 L105.92 945.50 L106.95 945.50 L107.97 945.50 L109.00 945.50 L110.02 945.50 L111.05 945.50 L112.07 945.50 L113.10 945.50 L114.12 945.50 L115.15 945.50 L116.17 945.50 L117.20 945.50 L118.22 945.50 L119.25 945.50 L120.28 945.50 L121.30 945.50 L122.33 945.50 L123.35 945.50 L124.38 945.50 L125.40 945.50 L126.43 945.50 L127.45 945.50 L128.48 945.50 L129.50 945.50 L130.53 945.50 L131.55 945.50 L132.57 945.50 L133.60 945.50 L134.62 945.50 L135.65 945.50 L136.67 945.50 L137.70 945.50 L138.73 945.50 L139.75 945.50 L140.77 945.50 L141.80 945.50 L142.82 945.50 L143.85 945.50 L144.88 945.50 L145.90 945.50 L146.93 945.50 L147.95 945.50 L148.97 945.50 L150.00 945.50 L151.02 945.50 L152.05 945.50 L153.07 945.50 L154.10 945.50 L155.12 945.50 L156.15 945.50 L157.18 945.50 L158.20 945.50 L159.22 945.50 L160.25 945.50 L161.28 945.50 L162.30 945.50 L163.32 945.50 L164.35 945.50 L165.38 945.50 L166.40 945.50 L167.42 945.50 L168.45 945.50 L169.48 945.50 L170.50 945.50 L171.52 945.50 L172.55 945.50 L173.58 945.50 L174.60 945.49 L175.62 945.49 L176.65 945.49 L177.67 945.49 L178.70 945.49 L179.72 945.49 L180.75 945.48 L181.77 945.48 L182.80 945.48 L183.82 945.47 L184.85 945.47 L185.88 945.46 L186.90 945.45 L187.93 945.44 L188.95 945.43 L189.97 945.42 L191.00 945.41 L192.02 945.39 L193.05 945.37 L194.07 945.35 L195.10 945.33 L196.12 945.30 L197.15 945.27 L198.17 945.23 L199.20 945.18 L200.22 945.13 L201.25 945.08 L202.27 945.01 L203.30 944.94 L204.33 944.85 L205.35 944.75 L206.38 944.65 L207.40 944.52 L208.43 944.38 L209.45 944.22 L210.47 944.05 L211.50 943.85 L212.53 943.62 L213.55 943.37 L214.57 943.09 L215.60 942.78 L216.62 942.43 L217.65 942.04 L218.68 941.61 L219.70 941.13 L220.72 940.60 L221.75 940.02 L222.78 939.38 L223.80 938.68 L224.82 937.91 L225.85 937.06 L226.88 936.14 L227.90 935.13 L228.93 934.03 L229.95 932.84 L230.97 931.54 L232.00 930.14 L233.02 928.63 L234.05 927.00 L235.08 925.24 L236.10 923.35 L237.12 921.33 L238.15 919.17 L239.17 916.86 L240.20 914.40 L241.23 911.78 L242.25 909.01 L243.28 906.07 L244.30 902.96 L245.32 899.69 L246.35 896.25 L247.38 892.63 L248.40 888.85 L249.43 884.89 L250.45 880.76 L251.47 876.47 L252.50 872.02 L253.53 867.40 L254.55 862.64 L255.58 857.73 L256.60 852.68 L257.62 847.51 L258.65 842.21 L259.68 836.82 L260.70 831.33 L261.72 825.76 L262.75 820.12 L263.77 814.44 L264.80 808.73 L265.83 803.00 L266.85 797.29 L267.88 791.59 L268.90 785.94 L269.92 780.36 L270.95 774.87 L271.97 769.49 L273.00 764.23 L274.02 759.13 L275.05 754.20 L276.08 749.47 L277.10 744.95 L278.12 740.67 L279.15 736.64 L280.17 732.89 L281.20 729.42 L282.23 726.27 L283.25 723.43 L284.27 720.93 L285.30 718.78 L286.32 716.99 L287.35 715.56 L288.38 714.51 L289.40 713.83 L290.42 713.54 L291.45 713.64 L292.48 714.11 L293.50 714.97 L294.52 716.21 L295.55 717.81 L296.57 719.78 L297.60 722.10 L298.62 724.77 L299.65 727.76 L300.67 731.07 L301.70 734.68 L302.72 738.56 L303.75 742.72 L304.77 747.12 L305.80 751.74 L306.83 756.57 L307.85 761.59 L308.88 766.77 L309.90 772.09 L310.92 777.53 L311.95 783.07 L312.97 788.68 L314.00 794.35 L315.02 800.06 L316.05 805.79 L317.07 811.51 L318.10 817.21 L319.12 822.87 L320.15 828.47 L321.17 834.00 L322.20 839.45 L323.22 844.80 L324.25 850.04 L325.28 855.15 L326.30 860.13 L327.33 864.97 L328.35 869.66 L329.38 874.20 L330.40 878.58 L331.43 882.79 L332.45 886.83 L333.47 890.71 L334.50 894.41 L335.53 897.94 L336.55 901.30 L337.58 904.49 L338.60 907.52 L339.63 910.37 L340.65 913.07 L341.68 915.61 L342.70 918.00 L343.73 920.24 L344.75 922.33 L345.77 924.29 L346.80 926.11 L347.83 927.80 L348.85 929.38 L349.88 930.84 L350.90 932.19 L351.93 933.43 L352.95 934.58 L353.98 935.63 L355.00 936.60 L356.02 937.48 L357.05 938.29 L358.07 939.03 L359.10 939.70 L360.13 940.31 L361.15 940.87 L362.18 941.37 L363.20 941.82 L364.22 942.23 L365.25 942.60 L366.28 942.93 L367.30 943.23 L368.33 943.50 L369.35 943.73 L370.38 943.95 L371.40 944.13 L372.42 944.30 L373.45 944.45 L374.48 944.58 L375.50 944.70 L376.52 944.80 L377.55 944.89 L378.58 944.97 L379.60 945.04 L380.62 945.11 L381.65 945.16 L382.67 945.21 L383.70 945.25 L384.72 945.28 L385.75 945.31 L386.78 945.34 L387.80 945.36 L388.82 945.38 L389.85 945.40 L390.88 945.42 L391.90 945.43 L392.93 945.44 L393.95 945.45 L394.97 945.46 L396.00 945.46 L397.02 945.47 L398.05 945.47 L399.08 945.48 L400.10 945.48 L401.12 945.48 L402.15 945.49 L403.17 945.49 L404.20 945.49 L405.23 945.49 L406.25 945.49 L407.27 945.49 L408.30 945.50 L409.32 945.50 L410.35 945.50 L411.37 945.50 L412.40 945.50 L413.43 945.50 L414.45 945.50 L415.47 945.50 L416.50 945.50 L417.53 945.50 L418.55 945.50 L419.57 945.50 L420.60 945.50 L421.62 945.50 L422.65 945.50 L423.67 945.50 L424.70 945.50 L425.72 945.50 L426.75 945.50 L427.78 945.50 L428.80 945.50 L429.83 945.50 L430.85 945.50 L431.88 945.50 L432.90 945.50 L433.93 945.50 L434.95 945.50 L435.98 945.50 L437.00 945.50 L438.02 945.50 L439.05 945.50 L440.08 945.50 L441.10 945.50 L442.12 945.50 L443.15 945.50 L444.18 945.50 L445.20 945.50 L446.23 945.50 L447.25 945.50 L448.28 945.50 L449.30 945.50 L450.32 945.50 L451.35 945.50 L452.38 945.50 L453.40 945.50 L454.43 945.50 L455.45 945.50 L456.48 945.50 L457.50 945.50 L458.52 945.50 L459.55 945.50 L460.57 945.50 L461.60 945.50 L462.62 945.50 L463.65 945.50 L464.67 945.50 L465.70 945.50 L466.72 945.50 L467.75 945.50 L468.78 945.50 L469.80 945.50 L470.82 945.50 L471.85 945.50 L472.88 945.50 L473.90 945.50 L474.93 945.50 L475.95 945.50 L476.97 945.50 L478.00 945.50" fill="none" stroke="#000" stroke-width="2.3"/>
<rect x="68" y="660" width="410" height="285.5" fill="none" stroke="#000" stroke-width="2"/>
<line x1="68" y1="945.5" x2="72" y2="945.5" stroke="#000" stroke-width="1.5"/>
<text x="60.4" y="953.2" text-anchor="end" style="font-size:20px" >0</text>
<line x1="68" y1="921.71" x2="71" y2="921.71" stroke="#000" stroke-width="1.5"/>
<line x1="68" y1="897.92" x2="72" y2="897.92" stroke="#000" stroke-width="1.5"/>
<text x="60.4" y="905.62" text-anchor="end" style="font-size:20px" >8</text>
<line x1="68" y1="874.12" x2="71" y2="874.12" stroke="#000" stroke-width="1.5"/>
<line x1="68" y1="850.33" x2="72" y2="850.33" stroke="#000" stroke-width="1.5"/>
<text x="60.4" y="858.03" text-anchor="end" style="font-size:20px" >16</text>
<line x1="68" y1="826.54" x2="71" y2="826.54" stroke="#000" stroke-width="1.5"/>
<line x1="68" y1="802.75" x2="72" y2="802.75" stroke="#000" stroke-width="1.5"/>
<text x="60.4" y="810.45" text-anchor="end" style="font-size:20px" >24</text>
<line x1="68" y1="778.96" x2="71" y2="778.96" stroke="#000" stroke-width="1.5"/>
<line x1="68" y1="755.17" x2="72" y2="755.17" stroke="#000" stroke-width="1.5"/>
<text x="60.4" y="762.87" text-anchor="end" style="font-size:20px" >32</text>
<line x1="68" y1="731.38" x2="71" y2="731.38" stroke="#000" stroke-width="1.5"/>
<line x1="68" y1="707.58" x2="72" y2="707.58" stroke="#000" stroke-width="1.5"/>
<text x="60.4" y="715.28" text-anchor="end" style="font-size:20px" >40</text>
<line x1="68" y1="683.79" x2="71" y2="683.79" stroke="#000" stroke-width="1.5"/>
<line x1="68" y1="660" x2="72" y2="660" stroke="#000" stroke-width="1.5"/>
<text x="60.4" y="667.7" text-anchor="end" style="font-size:20px" >48</text>
<line x1="68" y1="945.5" x2="68" y2="941.5" stroke="#000" stroke-width="1.5"/>
<text x="68" y="968.4" text-anchor="middle" style="font-size:20px" >-1.0</text>
<line x1="97.29" y1="945.5" x2="97.29" y2="942.5" stroke="#000" stroke-width="1.5"/>
<line x1="126.57" y1="945.5" x2="126.57" y2="941.5" stroke="#000" stroke-width="1.5"/>
<text x="126.57" y="968.4" text-anchor="middle" style="font-size:20px" >-0.8</text>
<line x1="155.86" y1="945.5" x2="155.86" y2="942.5" stroke="#000" stroke-width="1.5"/>
<line x1="185.14" y1="945.5" x2="185.14" y2="941.5" stroke="#000" stroke-width="1.5"/>
<text x="185.14" y="968.4" text-anchor="middle" style="font-size:20px" >-0.6</text>
<line x1="214.43" y1="945.5" x2="214.43" y2="942.5" stroke="#000" stroke-width="1.5"/>
<line x1="243.71" y1="945.5" x2="243.71" y2="941.5" stroke="#000" stroke-width="1.5"/>
<text x="243.71" y="968.4" text-anchor="middle" style="font-size:20px" >-0.4</text>
<line x1="273" y1="945.5" x2="273" y2="942.5" stroke="#000" stroke-width="1.5"/>
<line x1="302.29" y1="945.5" x2="302.29" y2="941.5" stroke="#000" stroke-width="1.5"/>
<text x="302.29" y="968.4" text-anchor="middle" style="font-size:20px" >-0.2</text>
<line x1="331.57" y1="945.5" x2="331.57" y2="942.5" stroke="#000" stroke-width="1.5"/>
<line x1="360.86" y1="945.5" x2="360.86" y2="941.5" stroke="#000" stroke-width="1.5"/>
<text x="360.86" y="968.4" text-anchor="middle" style="font-size:20px" >0.0</text>
<line x1="390.14" y1="945.5" x2="390.14" y2="942.5" stroke="#000" stroke-width="1.5"/>
<line x1="419.43" y1="945.5" x2="419.43" y2="941.5" stroke="#000" stroke-width="1.5"/>
<text x="419.43" y="968.4" text-anchor="middle" style="font-size:20px" >0.2</text>
<line x1="448.71" y1="945.5" x2="448.71" y2="942.5" stroke="#000" stroke-width="1.5"/>
<line x1="478" y1="945.5" x2="478" y2="941.5" stroke="#000" stroke-width="1.5"/>
<text x="478" y="968.4" text-anchor="middle" style="font-size:20px" >0.4</text>
<text x="77.3" y="683.6" text-anchor="start" style="font-size:20px" >(e) SA01</text>
<text x="184.50" y="683.20" textLength="280.87" lengthAdjust="spacing" style="font-size:17.0px">Mean = -0.24 &#177; 0.10&#8240; (2SD, n = 143)</text>
<rect x="726.23" y="929.17" width="8.75" height="15.83" fill="#fff" stroke="#505050" stroke-width="1.1"/>
<rect x="734.97" y="929.17" width="8.75" height="15.83" fill="#fff" stroke="#505050" stroke-width="1.1"/>
<rect x="743.72" y="857.92" width="8.75" height="87.08" fill="#fff" stroke="#505050" stroke-width="1.1"/>
<rect x="752.46" y="857.92" width="8.75" height="87.08" fill="#fff" stroke="#505050" stroke-width="1.1"/>
<rect x="761.21" y="762.92" width="8.75" height="182.08" fill="#fff" stroke="#505050" stroke-width="1.1"/>
<rect x="769.95" y="715.42" width="8.75" height="229.58" fill="#fff" stroke="#505050" stroke-width="1.1"/>
<rect x="778.7" y="739.17" width="8.75" height="205.83" fill="#fff" stroke="#505050" stroke-width="1.1"/>
<rect x="787.45" y="834.17" width="8.75" height="110.83" fill="#fff" stroke="#505050" stroke-width="1.1"/>
<rect x="796.19" y="881.67" width="8.75" height="63.33" fill="#fff" stroke="#505050" stroke-width="1.1"/>
<rect x="804.94" y="889.58" width="8.75" height="55.42" fill="#fff" stroke="#505050" stroke-width="1.1"/>
<rect x="813.68" y="929.17" width="8.75" height="15.83" fill="#fff" stroke="#505050" stroke-width="1.1"/>
<path d="M559.50 945.00 L560.52 945.00 L561.55 945.00 L562.57 945.00 L563.60 945.00 L564.62 945.00 L565.64 945.00 L566.67 945.00 L567.69 945.00 L568.71 945.00 L569.74 945.00 L570.76 945.00 L571.78 945.00 L572.81 945.00 L573.83 945.00 L574.86 945.00 L575.88 945.00 L576.90 945.00 L577.93 945.00 L578.95 945.00 L579.98 945.00 L581.00 945.00 L582.02 945.00 L583.05 945.00 L584.07 945.00 L585.09 945.00 L586.12 945.00 L587.14 945.00 L588.16 945.00 L589.19 945.00 L590.21 945.00 L591.24 945.00 L592.26 945.00 L593.28 945.00 L594.31 945.00 L595.33 945.00 L596.36 945.00 L597.38 945.00 L598.40 945.00 L599.43 945.00 L600.45 945.00 L601.47 945.00 L602.50 945.00 L603.52 945.00 L604.54 945.00 L605.57 945.00 L606.59 945.00 L607.62 945.00 L608.64 945.00 L609.66 945.00 L610.69 945.00 L611.71 945.00 L612.74 945.00 L613.76 945.00 L614.78 945.00 L615.81 945.00 L616.83 945.00 L617.85 945.00 L618.88 945.00 L619.90 945.00 L620.92 945.00 L621.95 945.00 L622.97 945.00 L624.00 945.00 L625.02 945.00 L626.04 945.00 L627.07 945.00 L628.09 945.00 L629.12 945.00 L630.14 945.00 L631.16 945.00 L632.19 945.00 L633.21 945.00 L634.23 945.00 L635.26 945.00 L636.28 945.00 L637.31 945.00 L638.33 945.00 L639.35 945.00 L640.38 945.00 L641.40 945.00 L642.42 945.00 L643.45 945.00 L644.47 945.00 L645.50 945.00 L646.52 945.00 L647.54 945.00 L648.57 945.00 L649.59 945.00 L650.61 944.99 L651.64 944.99 L652.66 944.99 L653.68 944.99 L654.71 944.99 L655.73 944.99 L656.76 944.98 L657.78 944.98 L658.80 944.98 L659.83 944.97 L660.85 944.97 L661.88 944.97 L662.90 944.96 L663.92 944.95 L664.95 944.94 L665.97 944.94 L666.99 944.93 L668.02 944.91 L669.04 944.90 L670.06 944.88 L671.09 944.86 L672.11 944.84 L673.14 944.82 L674.16 944.79 L675.18 944.76 L676.21 944.72 L677.23 944.68 L678.25 944.64 L679.28 944.58 L680.30 944.52 L681.33 944.46 L682.35 944.38 L683.37 944.29 L684.40 944.20 L685.42 944.09 L686.44 943.97 L687.47 943.83 L688.49 943.68 L689.52 943.51 L690.54 943.32 L691.56 943.11 L692.59 942.87 L693.61 942.61 L694.63 942.32 L695.66 942.00 L696.68 941.65 L697.71 941.26 L698.73 940.83 L699.75 940.36 L700.78 939.84 L701.80 939.28 L702.83 938.66 L703.85 937.98 L704.87 937.24 L705.90 936.44 L706.92 935.57 L707.94 934.62 L708.97 933.59 L709.99 932.48 L711.01 931.29 L712.04 929.99 L713.06 928.60 L714.09 927.11 L715.11 925.51 L716.13 923.79 L717.16 921.96 L718.18 920.00 L719.20 917.92 L720.23 915.70 L721.25 913.34 L722.28 910.85 L723.30 908.21 L724.32 905.42 L725.35 902.49 L726.37 899.39 L727.39 896.15 L728.42 892.74 L729.44 889.18 L730.47 885.46 L731.49 881.58 L732.51 877.55 L733.54 873.36 L734.56 869.01 L735.59 864.52 L736.61 859.88 L737.63 855.10 L738.66 850.19 L739.68 845.15 L740.70 840.00 L741.73 834.73 L742.75 829.36 L743.77 823.90 L744.80 818.37 L745.82 812.77 L746.85 807.12 L747.87 801.42 L748.89 795.71 L749.92 789.99 L750.94 784.27 L751.96 778.58 L752.99 772.94 L754.01 767.35 L755.04 761.84 L756.06 756.43 L757.08 751.14 L758.11 745.97 L759.13 740.96 L760.15 736.12 L761.18 731.47 L762.20 727.02 L763.23 722.79 L764.25 718.81 L765.27 715.07 L766.30 711.61 L767.32 708.43 L768.35 705.54 L769.37 702.97 L770.39 700.71 L771.42 698.78 L772.44 697.18 L773.46 695.93 L774.49 695.03 L775.51 694.48 L776.53 694.28 L777.56 694.44 L778.58 694.95 L779.61 695.81 L780.63 697.02 L781.65 698.58 L782.68 700.47 L783.70 702.69 L784.73 705.23 L785.75 708.08 L786.77 711.23 L787.80 714.66 L788.82 718.37 L789.84 722.33 L790.87 726.53 L791.89 730.95 L792.91 735.58 L793.94 740.40 L794.96 745.39 L795.99 750.54 L797.01 755.82 L798.03 761.22 L799.06 766.72 L800.08 772.30 L801.11 777.94 L802.13 783.62 L803.15 789.33 L804.18 795.06 L805.20 800.77 L806.22 806.47 L807.25 812.12 L808.27 817.73 L809.29 823.28 L810.32 828.74 L811.34 834.12 L812.37 839.40 L813.39 844.57 L814.41 849.62 L815.44 854.55 L816.46 859.34 L817.49 864.00 L818.51 868.51 L819.53 872.87 L820.56 877.08 L821.58 881.13 L822.60 885.03 L823.63 888.76 L824.65 892.34 L825.67 895.77 L826.70 899.03 L827.72 902.14 L828.75 905.09 L829.77 907.90 L830.79 910.55 L831.82 913.07 L832.84 915.44 L833.87 917.67 L834.89 919.77 L835.91 921.74 L836.94 923.59 L837.96 925.32 L838.98 926.93 L840.01 928.44 L841.03 929.84 L842.06 931.14 L843.08 932.35 L844.10 933.47 L845.13 934.51 L846.15 935.46 L847.17 936.34 L848.20 937.15 L849.22 937.90 L850.25 938.58 L851.27 939.21 L852.29 939.78 L853.32 940.30 L854.34 940.78 L855.36 941.21 L856.39 941.61 L857.41 941.96 L858.43 942.29 L859.46 942.58 L860.48 942.84 L861.51 943.08 L862.53 943.29 L863.55 943.49 L864.58 943.66 L865.60 943.81 L866.62 943.95 L867.65 944.07 L868.67 944.19 L869.70 944.28 L870.72 944.37 L871.74 944.45 L872.77 944.52 L873.79 944.58 L874.82 944.63 L875.84 944.68 L876.86 944.72 L877.89 944.76 L878.91 944.79 L879.93 944.82 L880.96 944.84 L881.98 944.86 L883.00 944.88 L884.03 944.90 L885.05 944.91 L886.08 944.92 L887.10 944.93 L888.12 944.94 L889.15 944.95 L890.17 944.96 L891.19 944.96 L892.22 944.97 L893.24 944.97 L894.27 944.98 L895.29 944.98 L896.31 944.98 L897.34 944.99 L898.36 944.99 L899.38 944.99 L900.41 944.99 L901.43 944.99 L902.46 944.99 L903.48 945.00 L904.50 945.00 L905.53 945.00 L906.55 945.00 L907.58 945.00 L908.60 945.00 L909.62 945.00 L910.65 945.00 L911.67 945.00 L912.69 945.00 L913.72 945.00 L914.74 945.00 L915.76 945.00 L916.79 945.00 L917.81 945.00 L918.84 945.00 L919.86 945.00 L920.88 945.00 L921.91 945.00 L922.93 945.00 L923.95 945.00 L924.98 945.00 L926.00 945.00 L927.03 945.00 L928.05 945.00 L929.07 945.00 L930.10 945.00 L931.12 945.00 L932.14 945.00 L933.17 945.00 L934.19 945.00 L935.22 945.00 L936.24 945.00 L937.26 945.00 L938.29 945.00 L939.31 945.00 L940.34 945.00 L941.36 945.00 L942.38 945.00 L943.41 945.00 L944.43 945.00 L945.45 945.00 L946.48 945.00 L947.50 945.00 L948.53 945.00 L949.55 945.00 L950.57 945.00 L951.60 945.00 L952.62 945.00 L953.64 945.00 L954.67 945.00 L955.69 945.00 L956.71 945.00 L957.74 945.00 L958.76 945.00 L959.79 945.00 L960.81 945.00 L961.83 945.00 L962.86 945.00 L963.88 945.00 L964.90 945.00 L965.93 945.00 L966.95 945.00 L967.98 945.00 L969.00 945.00" fill="none" stroke="#000" stroke-width="2.3"/>
<rect x="559.5" y="660" width="409.5" height="285" fill="none" stroke="#000" stroke-width="2"/>
<line x1="559.5" y1="945" x2="563.5" y2="945" stroke="#000" stroke-width="1.5"/>
<text x="551.9" y="952.7" text-anchor="end" style="font-size:20px" >0</text>
<line x1="559.5" y1="921.25" x2="562.5" y2="921.25" stroke="#000" stroke-width="1.5"/>
<line x1="559.5" y1="897.5" x2="563.5" y2="897.5" stroke="#000" stroke-width="1.5"/>
<text x="551.9" y="905.2" text-anchor="end" style="font-size:20px" >6</text>
<line x1="559.5" y1="873.75" x2="562.5" y2="873.75" stroke="#000" stroke-width="1.5"/>
<line x1="559.5" y1="850" x2="563.5" y2="850" stroke="#000" stroke-width="1.5"/>
<text x="551.9" y="857.7" text-anchor="end" style="font-size:20px" >12</text>
<line x1="559.5" y1="826.25" x2="562.5" y2="826.25" stroke="#000" stroke-width="1.5"/>
<line x1="559.5" y1="802.5" x2="563.5" y2="802.5" stroke="#000" stroke-width="1.5"/>
<text x="551.9" y="810.2" text-anchor="end" style="font-size:20px" >18</text>
<line x1="559.5" y1="778.75" x2="562.5" y2="778.75" stroke="#000" stroke-width="1.5"/>
<line x1="559.5" y1="755" x2="563.5" y2="755" stroke="#000" stroke-width="1.5"/>
<text x="551.9" y="762.7" text-anchor="end" style="font-size:20px" >24</text>
<line x1="559.5" y1="731.25" x2="562.5" y2="731.25" stroke="#000" stroke-width="1.5"/>
<line x1="559.5" y1="707.5" x2="563.5" y2="707.5" stroke="#000" stroke-width="1.5"/>
<text x="551.9" y="715.2" text-anchor="end" style="font-size:20px" >30</text>
<line x1="559.5" y1="683.75" x2="562.5" y2="683.75" stroke="#000" stroke-width="1.5"/>
<line x1="559.5" y1="660" x2="563.5" y2="660" stroke="#000" stroke-width="1.5"/>
<text x="551.9" y="667.7" text-anchor="end" style="font-size:20px" >36</text>
<line x1="559.5" y1="945" x2="559.5" y2="941" stroke="#000" stroke-width="1.5"/>
<text x="559.5" y="968.4" text-anchor="middle" style="font-size:20px" >-1.0</text>
<line x1="588.75" y1="945" x2="588.75" y2="942" stroke="#000" stroke-width="1.5"/>
<line x1="618" y1="945" x2="618" y2="941" stroke="#000" stroke-width="1.5"/>
<text x="618" y="968.4" text-anchor="middle" style="font-size:20px" >-0.8</text>
<line x1="647.25" y1="945" x2="647.25" y2="942" stroke="#000" stroke-width="1.5"/>
<line x1="676.5" y1="945" x2="676.5" y2="941" stroke="#000" stroke-width="1.5"/>
<text x="676.5" y="968.4" text-anchor="middle" style="font-size:20px" >-0.6</text>
<line x1="705.75" y1="945" x2="705.75" y2="942" stroke="#000" stroke-width="1.5"/>
<line x1="735" y1="945" x2="735" y2="941" stroke="#000" stroke-width="1.5"/>
<text x="735" y="968.4" text-anchor="middle" style="font-size:20px" >-0.4</text>
<line x1="764.25" y1="945" x2="764.25" y2="942" stroke="#000" stroke-width="1.5"/>
<line x1="793.5" y1="945" x2="793.5" y2="941" stroke="#000" stroke-width="1.5"/>
<text x="793.5" y="968.4" text-anchor="middle" style="font-size:20px" >-0.2</text>
<line x1="822.75" y1="945" x2="822.75" y2="942" stroke="#000" stroke-width="1.5"/>
<line x1="852" y1="945" x2="852" y2="941" stroke="#000" stroke-width="1.5"/>
<text x="852" y="968.4" text-anchor="middle" style="font-size:20px" >0.0</text>
<line x1="881.25" y1="945" x2="881.25" y2="942" stroke="#000" stroke-width="1.5"/>
<line x1="910.5" y1="945" x2="910.5" y2="941" stroke="#000" stroke-width="1.5"/>
<text x="910.5" y="968.4" text-anchor="middle" style="font-size:20px" >0.2</text>
<line x1="939.75" y1="945" x2="939.75" y2="942" stroke="#000" stroke-width="1.5"/>
<line x1="969" y1="945" x2="969" y2="941" stroke="#000" stroke-width="1.5"/>
<text x="969" y="968.4" text-anchor="middle" style="font-size:20px" >0.4</text>
<text x="568.8" y="683.6" text-anchor="start" style="font-size:20px" >(f) SA02</text>
<text x="677.90" y="682.60" textLength="280.07" lengthAdjust="spacing" style="font-size:17.0px">Mean = -0.26 &#177; 0.12&#8240; (2SD, n = 135)</text>
<text transform="translate(20.2,837.6) rotate(-90)" textLength="70.6" lengthAdjust="spacingAndGlyphs" style="font-size:18.6px">Number</text>
<text transform="translate(510.0,837.3) rotate(-90)" textLength="70.6" lengthAdjust="spacingAndGlyphs" style="font-size:18.6px">Number</text>
<text x="240" y="995.2" style="font-size:19px">&#948;<tspan dy="-10" style="font-size:10px">30</tspan><tspan dy="10">Si</tspan><tspan dy="4" style="font-size:10px">NBS28</tspan></text>
<text x="731.5" y="995.2" style="font-size:19px">&#948;<tspan dy="-10" style="font-size:10px">30</tspan><tspan dy="10">Si</tspan><tspan dy="4" style="font-size:10px">NBS28</tspan></text>
</svg>
</body></html>
